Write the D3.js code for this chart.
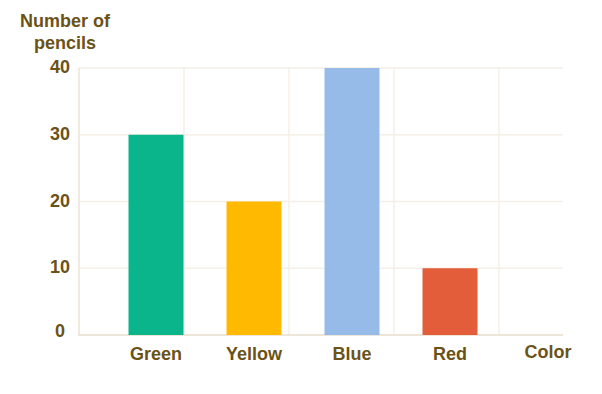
<!DOCTYPE html>
<html>
  <head>
    <script src="https://d3js.org/d3.v7.min.js"></script>
    <style>
      body { margin: 0; background: #fff; }
      text { font-family: "Liberation Sans", Arial, sans-serif; font-weight: bold; fill: #6b5217; }
    </style>
  </head>
  <body>
    <svg width="602" height="394"></svg>
    <script>
      var colors = ["Green", "Yellow", "Blue", "Red"];
      var pencils = [30, 20, 40, 10];
      var barFill = ["#0bb58b", "#ffba00", "#96bbe8", "#e35d3a"];
      var yTicks = [0, 10, 20, 30, 40];
      var xTitle = "Color";
      var yTitle = ["Number of", "pencils"];

      var svg = d3.select("svg");

      // y scale
      var y = d3.scaleLinear().domain([0, 40]).range([335, 68]);
      // category positions (bars + axis title share the spacing)
      var x = d3.scalePoint().domain(colors.concat([xTitle])).range([156, 548]);
      // vertical grid lines
      var gx = d3.scaleLinear().domain([0, 4.61]).range([79, 563]);

      // horizontal grid
      svg.append("g")
        .selectAll("line")
        .data(yTicks.slice(1))
        .enter()
        .append("line")
        .attr("x1", 79)
        .attr("x2", 563)
        .attr("y1", function (d) { return y(d); })
        .attr("y2", function (d) { return y(d); })
        .style("stroke", "#f5efe6")
        .style("stroke-width", 1.5);

      // vertical grid
      svg.append("g")
        .selectAll("line")
        .data([1, 2, 3, 4])
        .enter()
        .append("line")
        .attr("x1", function (d) { return gx(d); })
        .attr("x2", function (d) { return gx(d); })
        .attr("y1", 68)
        .attr("y2", 335)
        .style("stroke", "#f5efe6")
        .style("stroke-width", 1.5);

      // axes lines
      svg.append("line")
        .attr("x1", 79).attr("x2", 79)
        .attr("y1", 68).attr("y2", 336)
        .style("stroke", "#ede3d6")
        .style("stroke-width", 1.5);
      svg.append("line")
        .attr("x1", 79).attr("x2", 563)
        .attr("y1", 335).attr("y2", 335)
        .style("stroke", "#e8ddcd")
        .style("stroke-width", 1.5);

      // bars
      svg.append("g")
        .selectAll("rect")
        .data(colors)
        .enter()
        .append("rect")
        .attr("x", function (d) { return x(d) - 27.5; })
        .attr("width", 55)
        .attr("y", function (d, i) { return y(pencils[i]); })
        .attr("height", function (d, i) { return y(0) - y(pencils[i]); })
        .style("fill", function (d, i) { return barFill[i]; });

      // y tick labels
      svg.append("g")
        .selectAll("text")
        .data(yTicks)
        .enter()
        .append("text")
        .attr("x", 60)
        .attr("y", function (d) { return y(d) + (d === 0 ? 2 : 5); })
        .attr("text-anchor", "middle")
        .style("font-size", "18px")
        .text(function (d) { return d; });

      // category labels
      svg.append("g")
        .selectAll("text")
        .data(colors)
        .enter()
        .append("text")
        .attr("x", function (d) { return x(d); })
        .attr("y", 360)
        .attr("text-anchor", "middle")
        .style("font-size", "18px")
        .text(function (d) { return d; });

      // axis titles
      svg.append("text")
        .attr("x", x(xTitle))
        .attr("y", 358)
        .attr("text-anchor", "middle")
        .style("font-size", "18px")
        .text(xTitle);

      svg.append("g")
        .selectAll("text")
        .data(yTitle)
        .enter()
        .append("text")
        .attr("x", 65)
        .attr("y", function (d, i) { return 27 + i * 21.5; })
        .attr("text-anchor", "middle")
        .style("font-size", "18px")
        .text(function (d) { return d; });
    </script>
  </body>
</html>
